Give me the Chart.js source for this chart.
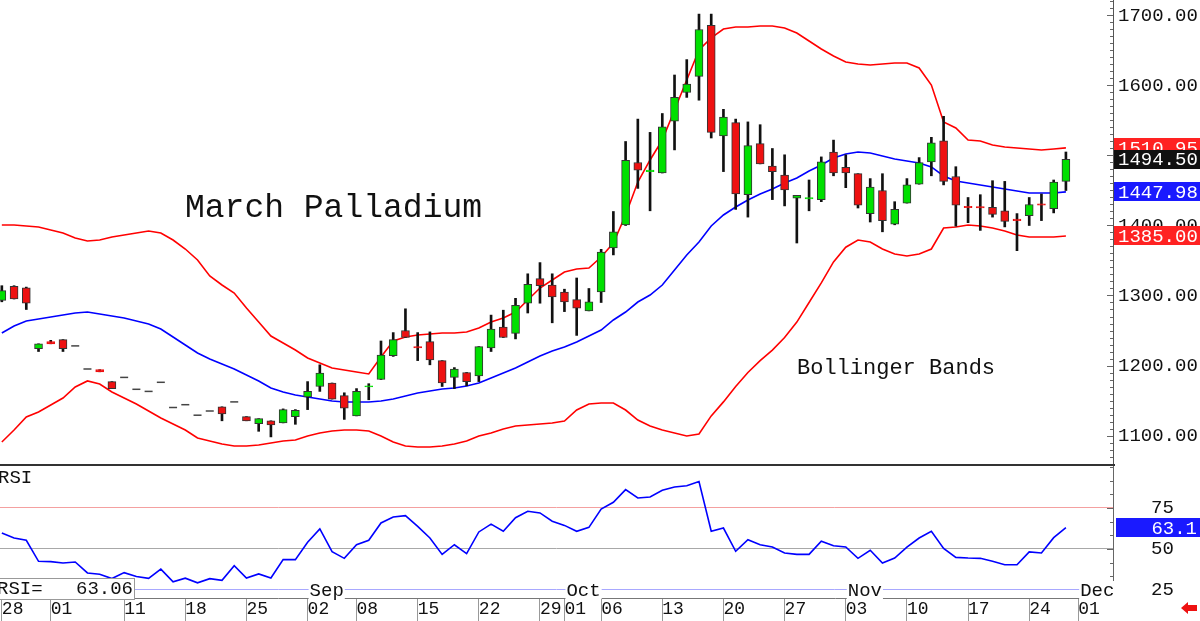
<!DOCTYPE html>
<html>
<head>
<meta charset="utf-8">
<script src="https://cdn.jsdelivr.net/npm/chart.js@4.4.1/dist/chart.umd.min.js"></script>
<style>
  html, body { margin: 0; padding: 0; background: #fff; }
  #wrap { position: relative; width: 1200px; height: 621px; overflow: hidden; }
  canvas { display: block; }
</style>
</head>
<body>
<div id="wrap">
  <canvas id="priceChart" width="1200" height="466"></canvas>
  <canvas id="rsiChart" width="1200" height="155"></canvas>
</div>
<script>
// daily bars, Jul 28 .. Nov 28 (index = trading day)
const openPrices = [
  1293, 1313, 1311, 1224, 1234, 1237, 1228, 1195, 1194, 1177,
  1183, 1166, 1163, 1176, 1140, 1144, 1129, 1135, 1141, 1148,
  1127, 1117, 1121, 1118, 1127, 1155, 1170, 1175, 1157, 1128,
  1169.5, 1180, 1214, 1250, 1227, 1234, 1207, 1183, 1190, 1185,
  1225, 1255, 1246, 1289, 1324, 1315, 1305, 1294, 1278, 1305,
  1368, 1401, 1490, 1477, 1475, 1549, 1590, 1613, 1686, 1528,
  1547, 1444, 1517, 1485, 1472, 1439, 1438, 1437, 1505, 1483,
  1474, 1417, 1450, 1402, 1432, 1459, 1491, 1521, 1470, 1427.5,
  1427, 1426, 1421, 1409, 1414, 1431, 1424, 1463
];
const highPrices = [
  1314, 1314, 1312, 1231, 1236, 1237, 1228, 1195, 1194, 1177,
  1183, 1166, 1163, 1176, 1140, 1144, 1129, 1135, 1141, 1148,
  1127, 1124, 1121, 1138, 1137, 1177, 1201, 1175, 1161, 1167,
  1174, 1235, 1247, 1281, 1247, 1248, 1207, 1197, 1190, 1227,
  1272, 1279, 1296, 1331, 1347, 1331, 1309, 1325, 1310, 1366,
  1420, 1520, 1552, 1533, 1560, 1615, 1637, 1702, 1702, 1566,
  1552, 1548, 1544, 1510, 1501, 1443, 1465, 1498, 1522, 1501,
  1474, 1467, 1474, 1434, 1467, 1497, 1526, 1556, 1484, 1440,
  1444, 1464, 1463, 1417, 1440, 1445, 1465, 1505
];
const lowPrices = [
  1291, 1295, 1280, 1220, 1231, 1220, 1228, 1195, 1191, 1167,
  1183, 1166, 1163, 1176, 1140, 1144, 1129, 1135, 1121, 1148,
  1121, 1106, 1098, 1118, 1116, 1137, 1163, 1152, 1123, 1128,
  1151, 1180, 1213, 1240, 1207, 1201, 1170, 1167, 1171, 1177,
  1220, 1240, 1238, 1275, 1289, 1261, 1277, 1243, 1278, 1290,
  1358, 1400, 1453, 1421, 1475, 1508, 1583, 1579, 1525, 1477,
  1423, 1412, 1488, 1437, 1428, 1375, 1421, 1434, 1471, 1454,
  1425, 1405, 1391, 1401, 1432, 1459, 1471, 1458, 1399, 1404,
  1393, 1412, 1398, 1364, 1400, 1407, 1418, 1450
];
const closePrices = [
  1307, 1295, 1289, 1231, 1231, 1224, 1228, 1195, 1191, 1167,
  1183, 1166, 1163, 1176, 1140, 1144, 1129, 1135, 1131, 1148,
  1121, 1124, 1115, 1137, 1136, 1163, 1189, 1152, 1139, 1163,
  1171, 1215, 1237, 1240, 1225, 1208, 1175, 1195, 1177, 1227,
  1252, 1240, 1286, 1316, 1314, 1298, 1291, 1282, 1291, 1362,
  1391, 1493, 1479, 1479, 1541, 1583, 1602, 1680, 1533, 1555,
  1445, 1514, 1488, 1477, 1451, 1443, 1440, 1491, 1475, 1475,
  1429, 1455, 1407, 1423, 1458, 1490, 1518, 1463, 1429, 1425.5,
  1425, 1416, 1406, 1407, 1430, 1429, 1462, 1494.5
];

// Bollinger bands (20, 2)
const upperBand = [
  1400.7, 1400.7, 1399.3, 1397.9, 1393.6, 1389.3, 1382.1, 1377.9, 1379.3, 1383.6,
  1386.4, 1389.3, 1392.1, 1389.3, 1379.3, 1366.4, 1350.7, 1327.9, 1315, 1303.6,
  1282.1, 1262.1, 1242.1, 1232.1, 1222.1, 1210.7, 1203.6, 1196.4, 1193.6, 1190.7,
  1187.9, 1212.1, 1235, 1240.7, 1243.6, 1245, 1246.4, 1246.4, 1247.9, 1253.6,
  1262.1, 1267.9, 1276.4, 1293.6, 1310.7, 1322.1, 1333.6, 1337.9, 1339.3, 1355,
  1375, 1415, 1462.1, 1493.6, 1522.1, 1565, 1607.9, 1650.7, 1667.9, 1680.7,
  1683.6, 1683.6, 1685, 1685, 1682.1, 1675, 1663.6, 1652.1, 1642.1, 1633.6,
  1630.7, 1629.3, 1630.7, 1632.1, 1632.1, 1625, 1600.7, 1547.9, 1539.3, 1522.1,
  1520.7, 1515, 1512.1, 1510.7, 1509.3, 1507.9, 1509.3, 1510.95
];
const middleBand = [
  1246.4, 1256.4, 1263.6, 1266.4, 1269.3, 1272.1, 1275, 1276.4, 1273.6, 1270.7,
  1267.9, 1263.6, 1259.3, 1252.1, 1240.7, 1229.3, 1217.9, 1209.3, 1202.1, 1195,
  1186.4, 1177.9, 1167.9, 1162.1, 1157.9, 1155, 1152.1, 1149.3, 1147.9, 1147.9,
  1147.9, 1149.3, 1152.1, 1156.4, 1160.7, 1163.6, 1166.4, 1167.9, 1170.7, 1175,
  1182.1, 1189.3, 1196.4, 1205, 1213.6, 1220.7, 1226.4, 1233.6, 1242.1, 1250.7,
  1265, 1276.4, 1290.7, 1300.7, 1315, 1336.4, 1357.9, 1376.4, 1399.3, 1415,
  1426.4, 1436.4, 1445, 1452.1, 1460.7, 1467.9, 1477.9, 1486.4, 1496.4, 1502.1,
  1505, 1503.6, 1499.3, 1495, 1492.1, 1489.3, 1483.6, 1470.7, 1463.6, 1460.7,
  1457.9, 1455, 1452.1, 1449.3, 1446.4, 1446.4, 1446.4, 1447.98
];
const lowerBand = [
  1090.7, 1107.9, 1126.4, 1133.6, 1143.6, 1153.6, 1169.3, 1177.9, 1173.6, 1162.1,
  1153.6, 1145, 1135, 1125, 1116.4, 1107.9, 1096.4, 1092.1, 1087.9, 1085,
  1085, 1086.4, 1089.3, 1092.1, 1093.6, 1099.3, 1103.6, 1106.4, 1107.9, 1107.9,
  1106.4, 1099.3, 1090.7, 1085, 1083.6, 1083.6, 1085, 1087.9, 1092.1, 1099.3,
  1103.6, 1109.3, 1113.6, 1115, 1116.4, 1117.9, 1120.7, 1136.4, 1145, 1146.4,
  1146.4, 1136.4, 1122.1, 1113.6, 1107.9, 1103.6, 1099.3, 1102.1, 1128, 1148,
  1170, 1190, 1207, 1222, 1240, 1262, 1290, 1318, 1348, 1369,
  1379.3, 1376.4, 1366.4, 1359.3, 1356.4, 1359.3, 1366.4, 1396.4, 1397.9, 1400.7,
  1399.3, 1396.4, 1392.1, 1386.4, 1383.6, 1383.6, 1383.6, 1385.00
];

const rsiValues = [
  59.8, 56.7, 55.3, 42.5, 42.3, 41.5, 42.1, 35.4, 34.6, 32,
  35.6, 33.2, 32.1, 37.7, 30, 32.2, 29.4, 31.9, 30.9, 39.8,
  32.3, 34.8, 32.3, 43.5, 43.5, 54.1, 62.2, 48.4, 44.3, 52.6,
  55.3, 65.9, 69.5, 70.3, 63.8, 56.7, 46.7, 52.6, 47.2, 60.4,
  65.2, 60.8, 69.1, 73, 72, 66.9, 64.4, 60.8, 63.2, 74.4,
  78.5, 86.2, 81.1, 81.7, 85.8, 87.8, 88.6, 91.1, 60.8, 62.8,
  48.6, 55.7, 52.6, 51.2, 47.6, 46.7, 46.7, 54.7, 52, 51.2,
  44.3, 49.2, 41.5, 44.5, 51.2, 56.7, 60.8, 50.4, 44.9, 44.5,
  44.3, 42.5, 40.4, 40.4, 48.2, 47.6, 56.9, 63.06
];

const dayTicks = [0, 4, 10, 15, 20, 25, 29, 34, 39, 44, 46, 49, 54, 59, 64, 69, 74, 79, 84, 88];
const dayLabels = ['28', '01', '11', '18', '25', '02', '08', '15', '22', '29', '01', '06', '13', '20', '27', '03', '10', '17', '24', '01'];
const monthTicks = [25, 46, 69, 88];
const monthLabels = ['Sep', 'Oct', 'Nov', 'Dec'];
const priceTicks = [1100, 1200, 1300, 1400, 1500, 1600, 1700];
const rsiTicks = [25, 50, 75];

const GREEN = '#00e000';
const RED = '#ee1111';
const TAG_RED = '#ff2222';
const TAG_BLUE = '#1a1aff';
const MONO = "'Liberation Mono', 'DejaVu Sans Mono', monospace";
Chart.defaults.font.family = MONO;
Chart.defaults.color = '#111';

const xMin = -0.15, xMax = 90.85;
const idx = closePrices.map((_, i) => i);
const isFlat = i => highPrices[i] === lowPrices[i];
const upColor = i => (closePrices[i] >= openPrices[i] ? GREEN : RED);
const tinyBody = i => Math.abs(closePrices[i] - openPrices[i]) < 3.5;

// keep the plot areas exactly where the reference has them
const fitRight = s => { s.width = 87; s.paddingTop = 0; s.paddingBottom = 0; };
const fitBottom = s => { s.height = 23; s.paddingLeft = 0; s.paddingRight = 0; };

// short marks on the inside of the right axis
function drawInnerTicks(chart, from, to, step, major) {
  const { ctx, chartArea } = chart;
  const s = chart.scales.y;
  ctx.save();
  ctx.strokeStyle = '#666';
  ctx.lineWidth = 1;
  for (let v = from; v <= to + 0.001; v += step) {
    const y = Math.round(s.getPixelForValue(v)) + 0.5;
    if (y < chartArea.top || y > chartArea.bottom) continue;
    const len = Math.abs(v % major) < 0.01 ? 6 : 3;
    ctx.beginPath();
    ctx.moveTo(chartArea.right - len, y);
    ctx.lineTo(chartArea.right, y);
    ctx.stroke();
  }
  ctx.restore();
}

function drawTag(ctx, x, y, w, color, text, align) {
  ctx.fillStyle = color;
  ctx.fillRect(x, Math.round(y - 9.5), w, 19);
  ctx.fillStyle = '#fff';
  ctx.textBaseline = 'middle';
  ctx.textAlign = align;
  ctx.fillText(text, align === 'right' ? x + w - 3 : x + 4, y + 1);
}

const pricePlugin = {
  id: 'priceExtras',
  afterDraw(chart) {
    const { ctx } = chart;
    const s = chart.scales.y;
    drawInnerTicks(chart, 1060, 1720, 10, 100);
    ctx.save();
    // panel separator
    ctx.fillStyle = '#333';
    ctx.fillRect(0, 464, 1115, 2);
    // titles
    ctx.fillStyle = '#111';
    ctx.textBaseline = 'alphabetic';
    ctx.textAlign = 'left';
    ctx.font = '33px ' + MONO;
    ctx.fillText('March Palladium', 185, 217);
    ctx.font = '22px ' + MONO;
    ctx.fillText('Bollinger Bands', 797, 374);
    // last value tags
    ctx.font = '19px ' + MONO;
    const last = closePrices.length - 1;
    const tags = [
      [upperBand[last], TAG_RED],
      [closePrices[last], '#111'],
      [middleBand[last], TAG_BLUE],
      [lowerBand[last], TAG_RED]
    ];
    tags.forEach(([v, c]) => drawTag(ctx, 1114, s.getPixelForValue(v), 86, c, v.toFixed(2), 'left'));
    ctx.restore();
  }
};

const rsiPlugin = {
  id: 'rsiExtras',
  afterDraw(chart) {
    const { ctx } = chart;
    const sx = chart.scales.x, sy = chart.scales.y;
    drawInnerTicks(chart, 25, 100, 25 / 3, 25);
    ctx.save();
    ctx.font = '19px ' + MONO;
    ctx.textBaseline = 'middle';
    ctx.fillStyle = '#111';
    ctx.textAlign = 'left';
    ctx.fillText('RSI', -2, 12);
    // month names sitting on the 25 line
    const y25 = sy.getPixelForValue(25);
    monthTicks.forEach((t, k) => {
      const x = sx.getPixelForValue(t) + 2;
      const w = ctx.measureText(monthLabels[k]).width;
      ctx.fillStyle = '#fff';
      ctx.fillRect(x - 1, y25 - 9, w + 2, 18);
      ctx.fillStyle = '#111';
      ctx.fillText(monthLabels[k], x, y25 + 1);
    });
    // readout box
    ctx.fillStyle = '#fff';
    ctx.fillRect(0, 112, 135, 21);
    ctx.strokeStyle = '#999';
    ctx.lineWidth = 1;
    ctx.strokeRect(-0.5, 112.5, 135, 21);
    ctx.fillStyle = '#111';
    ctx.fillText('RSI=', -3, 123);
    ctx.textAlign = 'right';
    const lastRsi = rsiValues[rsiValues.length - 1];
    ctx.fillText(lastRsi.toFixed(2), 133, 123);
    // last value tag
    drawTag(ctx, 1116, sy.getPixelForValue(lastRsi), 84, TAG_BLUE, lastRsi.toFixed(1), 'right');
    // little red arrow
    ctx.fillStyle = RED;
    ctx.beginPath();
    ctx.moveTo(1181, 142);
    ctx.lineTo(1188, 136);
    ctx.lineTo(1188, 139);
    ctx.lineTo(1197, 139);
    ctx.lineTo(1197, 145);
    ctx.lineTo(1188, 145);
    ctx.lineTo(1188, 148);
    ctx.closePath();
    ctx.fill();
    ctx.restore();
  }
};

new Chart(document.getElementById('priceChart'), {
  type: 'bar',
  data: {
    datasets: [
      {
        type: 'bar',
        data: idx.map(i => ({ x: i, y: isFlat(i) ? null : [openPrices[i], closePrices[i]] })),
        grouped: false,
        barThickness: 8,
        backgroundColor: c => upColor(c.dataIndex),
        borderColor: c => (tinyBody(c.dataIndex) ? upColor(c.dataIndex) : '#333'),
        borderWidth: 1,
        borderSkipped: false,
        order: 0
      },
      {
        type: 'line',
        data: idx.filter(isFlat).map(i => ({ x: i, y: closePrices[i] })),
        showLine: false,
        pointStyle: 'line',
        pointRadius: 4,
        pointBorderWidth: 1.5,
        pointBorderColor: '#444',
        order: 0
      },
      {
        type: 'bar',
        data: idx.map(i => ({ x: i, y: isFlat(i) ? null : [lowPrices[i], highPrices[i]] })),
        grouped: false,
        barThickness: 2,
        backgroundColor: '#111',
        borderWidth: 0,
        order: 1
      },
      {
        type: 'line',
        data: idx.map(i => ({ x: i, y: upperBand[i] })),
        borderColor: '#ff0000',
        borderWidth: 1.6,
        pointRadius: 0,
        order: 2
      },
      {
        type: 'line',
        data: idx.map(i => ({ x: i, y: middleBand[i] })),
        borderColor: '#0000ff',
        borderWidth: 1.6,
        pointRadius: 0,
        order: 2
      },
      {
        type: 'line',
        data: idx.map(i => ({ x: i, y: lowerBand[i] })),
        borderColor: '#ff0000',
        borderWidth: 1.6,
        pointRadius: 0,
        order: 2
      }
    ]
  },
  options: {
    responsive: false,
    animation: false,
    layout: { padding: 0, autoPadding: false },
    plugins: { legend: { display: false }, tooltip: { enabled: false } },
    scales: {
      x: { type: 'linear', display: false, min: xMin, max: xMax, offset: false },
      y: {
        position: 'right',
        min: 1056.43,
        max: 1722.14,
        afterFit: fitRight,
        afterBuildTicks: s => { s.ticks = priceTicks.map(v => ({ value: v })); },
        grid: { drawOnChartArea: false, drawTicks: false },
        border: { display: true, color: '#555', width: 1 },
        ticks: { padding: 5, color: '#111', font: { size: 19 }, callback: v => Number(v).toFixed(2) }
      }
    }
  },
  plugins: [pricePlugin]
});

const rsiGridColors = { 25: '#a8a8ff', 50: '#a8a8a8', 75: '#f4a0a0' };

new Chart(document.getElementById('rsiChart'), {
  type: 'line',
  data: {
    datasets: [{
      data: idx.map(i => ({ x: i, y: rsiValues[i] })),
      borderColor: '#0000ff',
      borderWidth: 1.6,
      pointRadius: 0,
      tension: 0
    }]
  },
  options: {
    responsive: false,
    animation: false,
    layout: { padding: 0, autoPadding: false },
    plugins: { legend: { display: false }, tooltip: { enabled: false } },
    scales: {
      x: {
        type: 'linear',
        min: xMin,
        max: xMax,
        afterBuildTicks: s => { s.ticks = dayTicks.map(v => ({ value: v })); },
        afterFit: fitBottom,
        grid: { drawOnChartArea: false, drawTicks: true, tickLength: 23, tickColor: '#999', tickWidth: 1 },
        border: { display: true, color: '#777' },
        ticks: {
          autoSkip: false, maxRotation: 0, minRotation: 0, align: 'start', padding: -23,
          color: '#111', font: { size: 18 },
          callback: v => { const k = dayTicks.indexOf(v); return k < 0 ? '' : dayLabels[k]; }
        }
      },
      y: {
        position: 'right',
        min: 20.12,
        max: 100.61,
        afterFit: fitRight,
        afterBuildTicks: s => { s.ticks = rsiTicks.map(v => ({ value: v })); },
        grid: { drawTicks: false, lineWidth: 1, color: c => rsiGridColors[c.tick.value] || '#ccc' },
        border: { display: true, color: '#666' },
        ticks: { padding: 38, color: '#111', font: { size: 19 } }
      }
    }
  },
  plugins: [rsiPlugin]
});
</script>
</body>
</html>
